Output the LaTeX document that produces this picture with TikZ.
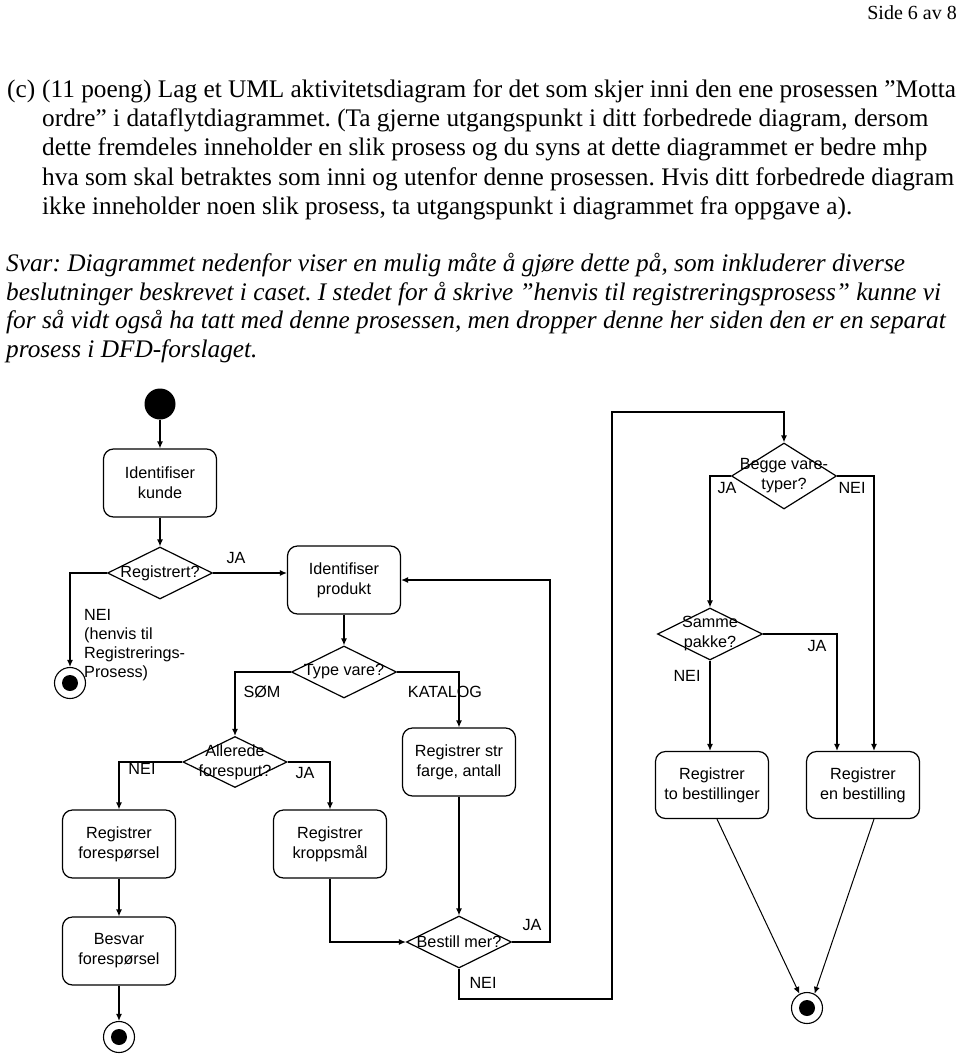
\documentclass[tikz,border=0pt]{standalone}
\usepackage{fontspec}
\setmainfont{Liberation Serif}
\newfontfamily\diasans{Liberation Sans}
\usetikzlibrary{arrows.meta,shapes.geometric}
\newcommand\diafont{\diasans\fontsize{16.2}{20}\selectfont}
\newcommand\bodyfont{\fontsize{25.3}{29}\selectfont}
\frenchspacing
\begin{document}
\begin{tikzpicture}[x=1pt,y=-1pt,
  act/.style={draw, line width=1.2pt, rounded corners=10pt, minimum width=113pt, minimum height=68pt, align=center, font=\diafont, inner sep=2pt},
  dec/.style={draw, diamond, line width=1.2pt, minimum width=105pt, minimum height=52pt, inner sep=0pt},
  dtext/.style={font=\diafont, align=center, inner sep=0pt},
  lbl/.style={font=\diafont, inner sep=0pt},
  flow/.style={line width=1.2pt, -{Latex[length=7pt,width=6pt]}},
  startst/.style={circle, fill=black, minimum size=31pt, inner sep=0pt},
  endst/.style={circle, draw, line width=1.1pt, minimum size=31pt, inner sep=0pt},
  txt/.style={font=\bodyfont, inner sep=0pt, anchor=base west},
  itxt/.style={font=\bodyfont\itshape, inner sep=0pt, anchor=base west}
]
\useasboundingbox (0,0) rectangle (960,1055);
\fill[white] (0,0) rectangle (960,1055);

% ---------- text ----------
\node[font=\fontsize{20}{24}\selectfont, inner sep=0pt, anchor=base east] (hdr) at (957,19) {Side 6 av 8};
\node[txt] (c0) at (7,97) {(c)};
\node[txt] (l1) at (42,97) {(11 poeng) Lag et UML aktivitetsdiagram for det som skjer inni den ene prosessen ”Motta};
\node[txt] (l2) at (42,126) {ordre” i dataflytdiagrammet. (Ta gjerne utgangspunkt i ditt forbedrede diagram, dersom};
\node[txt] (l3) at (42,155) {dette fremdeles inneholder en slik prosess og du syns at dette diagrammet er bedre mhp};
\node[txt] (l4) at (42,185) {hva som skal betraktes som inni og utenfor denne prosessen. Hvis ditt forbedrede diagram};
\node[txt] (l5) at (42,214) {ikke inneholder noen slik prosess, ta utgangspunkt i diagrammet fra oppgave a).};
\node[itxt] (s1) at (6,271) {Svar: Diagrammet nedenfor viser en mulig måte å gjøre dette på, som inkluderer diverse};
\node[itxt] (s2) at (6,300) {beslutninger beskrevet i caset. I stedet for å skrive ”henvis til registreringsprosess” kunne vi};
\node[itxt] (s3) at (6,328) {for så vidt også ha tatt med denne prosessen, men dropper denne her siden den er en separat};
\node[itxt] (s4) at (6,357) {prosess i DFD-forslaget.};

% ---------- nodes ----------
\node[startst] (start) at (160,404) {};
\node[act] (idk) at (160,483) {Identifiser\\kunde};
\node[dec] (reg) at (160,573) {};
\node[endst] (end1) at (70,683) {};
\node[act] (idp) at (344,580) {Identifiser\\produkt};
\node[dec] (typ) at (344,672) {};
\node[dec, minimum width=104pt, minimum height=51pt] (all) at (235,762) {};
\node[act] (str) at (459,762) {Registrer str\\farge, antall};
\node[act] (rf) at (119,844) {Registrer\\forespørsel};
\node[act] (bf) at (119,951) {Besvar\\forespørsel};
\node[endst] (end2) at (119,1037) {};
\node[act] (rk) at (330,844) {Registrer\\kroppsmål};
\node[dec] (bm) at (459,942) {};
\node[dec, minimum height=66pt] (bg) at (784,476) {};
\node[dec] (sp) at (710,634) {};
\node[act, minimum height=67pt] (rtb) at (712,785) {Registrer\\to bestillinger};
\node[act, minimum height=67pt] (reb) at (863,785) {Registrer\\en bestilling};
\node[endst] (end3) at (807,1008) {};
\fill (end1.center) circle (8pt);
\fill (end2.center) circle (8pt);
\fill (end3.center) circle (8pt);

\node[dtext] (regt) at (reg) {Registrert?};
\node[dtext] (typt) at (typ) {Type vare?};
\node[dtext] (allt) at (all) {Allerede\\forespurt?};
\node[dtext] (bmt) at (bm) {Bestill mer?};
\node[dtext] (bgt) at (bg) {Begge vare-\\typer?};
\node[dtext] (spt) at (sp) {Samme\\pakke?};

% ---------- labels ----------
\node[lbl] (ja1) at (236,558) {JA};
\node[lbl, align=left, anchor=north west, font=\diasans\fontsize{16.2}{19}\selectfont] (nei1) at (84,609) {NEI\\(henvis til\\Registrerings-\\Prosess)};
\node[lbl] (som) at (262,692) {SØM};
\node[lbl] (kat) at (445,692) {KATALOG};
\node[lbl] (nei2) at (142,769) {NEI};
\node[lbl] (ja2) at (305,773) {JA};
\node[lbl] (ja3) at (532,925) {JA};
\node[lbl] (nei3) at (483,983) {NEI};
\node[lbl] (ja4) at (727,488) {JA};
\node[lbl] (nei4) at (852,488) {NEI};
\node[lbl] (ja5) at (817,646) {JA};
\node[lbl] (nei5) at (687,676) {NEI};

% ---------- helper coordinates ----------
\coordinate (jx) at (550,0);
\coordinate (lpb) at (612,999);
\coordinate (lpt) at (612,412);

% ---------- connectors ----------
\draw[flow] (start) -- (idk);
\draw[flow] (idk) -- (reg);
\draw[flow] (reg.east) -- (reg.east -| idp.west);
\draw[flow] (reg.west) -| (end1.north);
\draw[flow] (idp) -- (typ);
\draw[flow] (typ.west) -| (all.north);
\draw[flow] (typ.east) -| (str.north);
\draw[flow] (all.west) -| (rf.north);
\draw[flow] (all.east) -| (rk.north);
\draw[flow] (rf) -- (bf);
\draw[flow] (bf) -- (end2);
\draw[flow] (rk.south) |- (bm.west);
\draw[flow] (str) -- (bm);
\draw[flow] (bm.east) -- (bm.east -| jx) |- (idp.east);
\draw[flow] (bm.south) |- (lpb) -- (lpt) -| (bg.north);
\draw[flow] (bg.west) -| (sp.north);
\draw[flow] (bg.east) -| ([xshift=11pt]reb.north);
\draw[flow] (sp.east) -| ([xshift=-26pt]reb.north);
\draw[flow] (sp.south) -- (sp.south |- rtb.north);
\draw[flow, line width=1pt] ([xshift=5pt]rtb.south) -- (end3.118);
\draw[flow, line width=1pt] ([xshift=11pt]reb.south) -- (end3.62);
\end{tikzpicture}
\end{document}
